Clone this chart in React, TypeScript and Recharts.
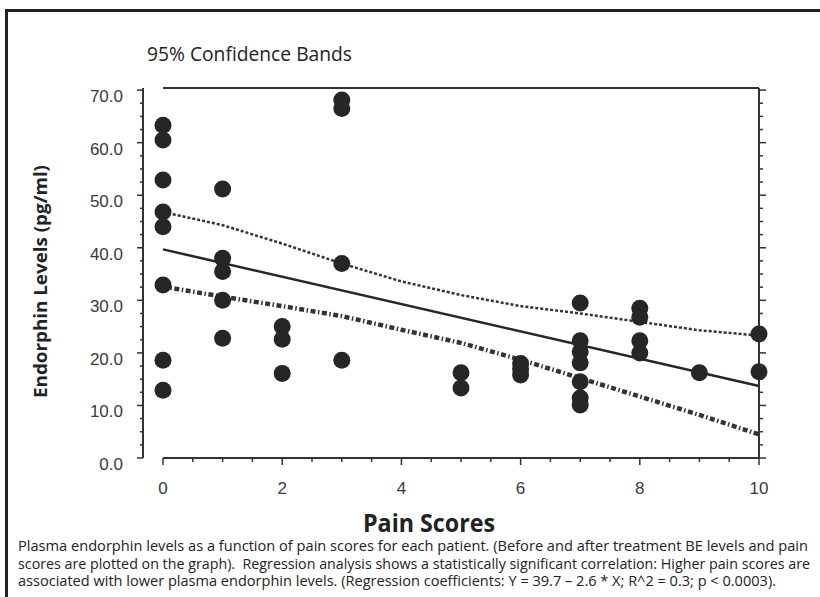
import React from "react";
import {
  ComposedChart,
  Scatter,
  Line,
  XAxis,
  YAxis,
  ReferenceLine,
} from "recharts";

// paired: pain score (x) and plasma endorphin level (y) for every measurement
const painScores = [
  0, 0, 0, 0, 0, 0, 0, 0,
  1, 1, 1, 1, 1,
  2, 2, 2,
  3, 3, 3, 3,
  5, 5,
  6, 6, 6,
  7, 7, 7, 7, 7, 7, 7,
  8, 8, 8, 8,
  9,
  10, 10,
];
const endorphin = [
  63.3, 60.5, 52.9, 46.8, 44.0, 32.9, 18.6, 12.9,
  51.2, 38.0, 35.5, 30.0, 22.8,
  25.0, 22.6, 16.1,
  68.1, 66.5, 37.0, 18.6,
  16.2, 13.3,
  18.0, 17.0, 15.8,
  29.5, 22.3, 20.2, 18.1, 14.5, 11.4, 10.1,
  28.5, 26.8, 22.3, 20.0,
  16.2,
  23.6, 16.4,
];

// 95% confidence bands
const bandPain = [0, 1, 2, 3, 4, 5, 6, 7, 8, 9, 10];
const upperBand = [46.8, 44.3, 40.8, 37.0, 33.6, 31.0, 28.9, 27.5, 25.9, 24.3, 23.3];
const lowerBand = [32.6, 30.7, 28.9, 27.0, 24.4, 21.9, 18.7, 15.2, 11.7, 8.2, 4.5];

// regression line end points
const fitPain = [0, 10];
const fitEndorphin = [39.7, 13.7];

const xTicks = [0, 0.5, 1, 1.5, 2, 2.5, 3, 3.5, 4, 4.5, 5, 5.5, 6, 6.5, 7, 7.5, 8, 8.5, 9, 9.5, 10];
const xMajor = [0, 2, 4, 6, 8, 10];
const yTicks = [
  0, 2.5, 5, 7.5, 10, 12.5, 15, 17.5, 20, 22.5, 25, 27.5, 30, 32.5, 35, 37.5,
  40, 42.5, 45, 47.5, 50, 52.5, 55, 57.5, 60, 62.5, 65, 67.5, 70,
];
const yMajor = [0, 10, 20, 30, 40, 50, 60, 70];

const chartTitle = "95% Confidence Bands";
const xTitle = "Pain Scores";
const yTitle = "Endorphin Levels (pg/ml)";
const captionLines = [
  "Plasma endorphin levels as a function of pain scores for each patient. (Before and after treatment BE levels and pain",
  "scores are plotted on the graph).  Regression analysis shows a statistically significant correlation: Higher pain scores are",
  "associated with lower plasma endorphin levels. (Regression coefficients: Y = 39.7 \u2013 2.6 * X; R^2 = 0.3; p < 0.0003).",
];
const captionWidths = [790, 792, 758];

const points = painScores.map((x, i) => ({ x, y: endorphin[i] }));
const upper = bandPain.map((x, i) => ({ x, y: upperBand[i] }));
const lower = bandPain.map((x, i) => ({ x, y: lowerBand[i] }));
const fit = fitPain.map((x, i) => ({ x, y: fitEndorphin[i] }));

const INK = "#262626";
const AXIS = "#333";
const LABEL = "#3a3a3a";
const TICK_FONT = "'Liberation Sans', Arial, sans-serif";
const TEXT_FONT = "'Open Sans', 'Noto Sans', sans-serif";

const BottomTick = (p: any) => {
  const major = xMajor.includes(p.payload.value);
  return (
    <g>
      <line x1={p.x} x2={p.x} y1={p.y} y2={p.y + (major ? 7 : 4)} stroke={AXIS} strokeWidth={1.5} />
      {major && (
        <text x={p.x} y={p.y + 36} textAnchor="middle" fontSize={17} fill={LABEL} fontFamily={TICK_FONT}>
          {p.payload.value}
        </text>
      )}
    </g>
  );
};

const TopTick = (p: any) => {
  const major = xMajor.includes(p.payload.value);
  return <line x1={p.x} x2={p.x} y1={p.y} y2={p.y - (major ? 7 : 4)} stroke={AXIS} strokeWidth={1.5} />;
};

const LeftTick = (p: any) => {
  const major = yMajor.includes(p.payload.value);
  return (
    <g>
      <line x1={p.x - (major ? 6 : 3)} x2={p.x} y1={p.y} y2={p.y} stroke={AXIS} strokeWidth={1.5} />
      {major && (
        <text x={p.x - 20} y={p.y + 12} textAnchor="end" fontSize={17} fill={LABEL} fontFamily={TICK_FONT}>
          {p.payload.value.toFixed(1)}
        </text>
      )}
    </g>
  );
};

const RightTick = (p: any) => {
  const major = yMajor.includes(p.payload.value);
  return <line x1={p.x} x2={p.x + (major ? 7 : 4)} y1={p.y} y2={p.y} stroke={AXIS} strokeWidth={1.5} />;
};

const Dot = (p: any) => <circle cx={p.cx} cy={p.cy} r={8.5} fill={INK} />;

export default function App() {
  return (
    <div
      style={{
        position: "absolute",
        left: 0,
        top: 0,
        width: 820,
        height: 597,
        overflow: "hidden",
        background: "#fff",
      }}
    >
      {/* frame: only top and left edges fall inside the picture */}
      <div style={{ position: "absolute", left: 5, top: 9, width: 815, height: 2.5, background: "#222" }} />
      <div style={{ position: "absolute", left: 5, top: 9, width: 2.5, height: 588, background: "#222" }} />
      <div style={{ position: "absolute", left: 0, top: 0 }}>
        <ComposedChart
          width={820}
          height={500}
          margin={{ top: 78, right: 41, bottom: 2, left: 83 }}
        >
          <XAxis
            dataKey="x"
            type="number"
            domain={[0, 10]}
            ticks={xTicks}
            interval={0}
            padding={{ left: 20, right: 0 }}
            axisLine={false}
            tickLine={false}
            tickSize={0}
            tickMargin={0}
            height={40}
            tick={<BottomTick />}
          />
          <XAxis
            xAxisId="top"
            orientation="top"
            dataKey="x"
            type="number"
            domain={[0, 10]}
            ticks={xTicks}
            interval={0}
            padding={{ left: 20, right: 0 }}
            axisLine={false}
            tickLine={false}
            tickSize={0}
            tickMargin={0}
            height={10}
            tick={<TopTick />}
          />
          <YAxis
            type="number"
            domain={[0, 70.4]}
            ticks={yTicks}
            interval={0}
            allowDataOverflow
            axisLine={{ stroke: AXIS, strokeWidth: 2 }}
            tickLine={false}
            tickSize={0}
            tickMargin={0}
            width={60}
            tick={<LeftTick />}
          />
          <YAxis
            yAxisId="right"
            orientation="right"
            type="number"
            domain={[0, 70.4]}
            ticks={yTicks}
            interval={0}
            allowDataOverflow
            axisLine={{ stroke: AXIS, strokeWidth: 2 }}
            tickLine={false}
            tickSize={0}
            tickMargin={0}
            width={20}
            tick={<RightTick />}
          />
          <ReferenceLine
            segment={[{ x: 0, y: 0 }, { x: 10, y: 0 }]}
            stroke={AXIS}
            strokeWidth={2}
            ifOverflow="visible"
          />
          <ReferenceLine
            segment={[{ x: 0, y: 70.4 }, { x: 10, y: 70.4 }]}
            stroke={AXIS}
            strokeWidth={2}
            ifOverflow="visible"
          />
          <Line
            data={upper}
            dataKey="y"
            type="linear"
            stroke={AXIS}
            strokeWidth={2.5}
            strokeDasharray="3 2"
            dot={false}
            activeDot={false}
            isAnimationActive={false}
          />
          <Line
            data={lower}
            dataKey="y"
            type="linear"
            stroke={AXIS}
            strokeWidth={4.5}
            strokeDasharray="5 2.5 1.5 2.5"
            dot={false}
            activeDot={false}
            isAnimationActive={false}
          />
          <Line
            data={fit}
            dataKey="y"
            type="linear"
            stroke={INK}
            strokeWidth={2.5}
            dot={false}
            activeDot={false}
            isAnimationActive={false}
          />
          <Scatter data={points} dataKey="y" shape={Dot} isAnimationActive={false} />
        </ComposedChart>
      </div>
      <svg
        width={820}
        height={597}
        style={{ position: "absolute", left: 0, top: 0, pointerEvents: "none" }}
      >
        <text x={147} y={61} fontSize={20} fill="#222" fontFamily={TEXT_FONT} textLength={205} lengthAdjust="spacingAndGlyphs">
          {chartTitle}
        </text>
        <text
          x={46.5}
          y={281.5}
          transform="rotate(-90 46.5 281.5)"
          textAnchor="middle"
          fontSize={17}
          fontWeight="bold"
          fill="#222"
          fontFamily={TEXT_FONT}
          textLength={233}
          lengthAdjust="spacingAndGlyphs"
        >
          {yTitle}
        </text>
        <text
          x={429}
          y={531.5}
          textAnchor="middle"
          fontSize={25}
          fontWeight="bold"
          fill="#222"
          fontFamily={TEXT_FONT}
          textLength={132}
          lengthAdjust="spacingAndGlyphs"
        >
          {xTitle}
        </text>
        {captionLines.map((line, i) => (
          <text
            key={i}
            x={18}
            y={551 + i * 17.5}
            fontSize={14.5}
            fill="#222"
            fontFamily={TEXT_FONT}
            textLength={captionWidths[i]}
            lengthAdjust="spacingAndGlyphs"
            xmlSpace="preserve"
          >
            {line}
          </text>
        ))}
      </svg>
    </div>
  );
}
